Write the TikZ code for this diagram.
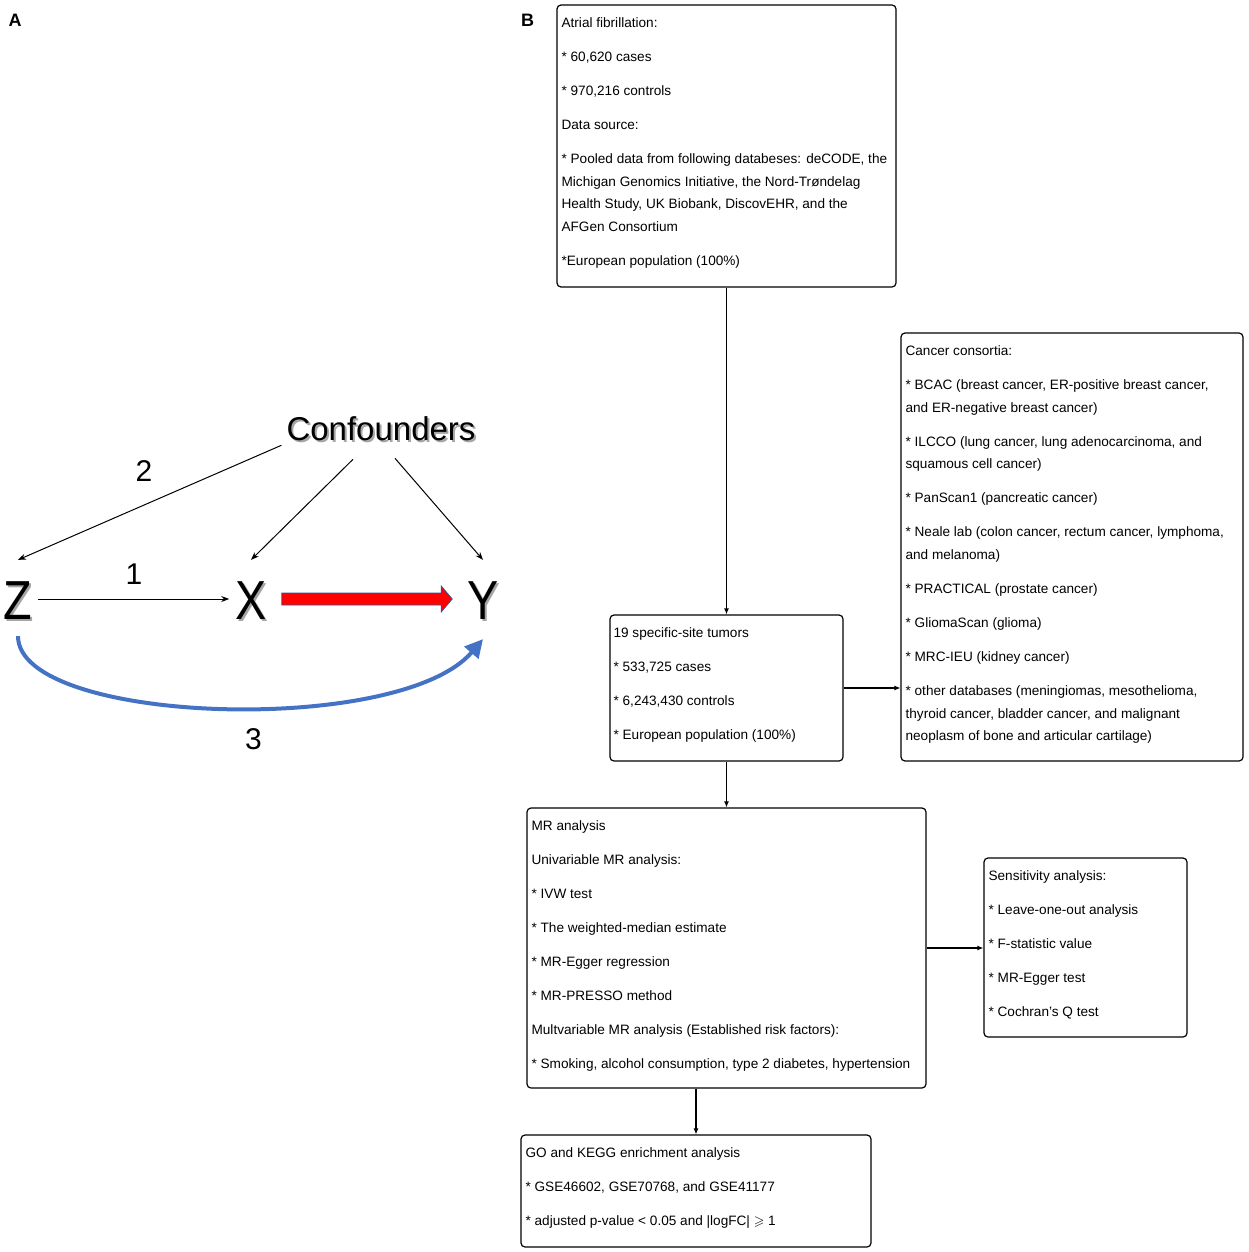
\documentclass[tikz,border=0pt]{standalone}
\usepackage{amssymb}
\usepackage{graphicx}
\usepackage{fontspec}
\setmainfont{Liberation Sans}
\usetikzlibrary{arrows.meta,calc}

\definecolor{arcblue}{HTML}{4472C4}
\definecolor{edgeblue}{HTML}{2F5597}

% grey offset copy behind the big letters
\newcommand{\shadowed}[1]{\makebox[0pt][l]{\hspace{2pt}\raisebox{-2pt}{\color{black!35}#1}}#1}
\newcommand{\narrowed}[1]{\scalebox{0.85}[1]{\shadowed{#1}}}

\tikzset{
  box/.style={draw, rounded corners=4pt, line width=1.2pt, inner sep=0pt},
  boxtext/.style={anchor=north west, inner sep=0pt, align=left,
    font=\fontsize{13.6}{22.7}\selectfont},
  flow/.style={line width=1.1pt, -{Latex[length=6pt,width=5pt]}},
  cause/.style={line width=1pt, -{Stealth[length=8pt,width=6pt]}},
  letter/.style={inner sep=0pt, font=\fontsize{55}{55}\selectfont},
  num/.style={inner sep=0pt, font=\fontsize{30}{30}\selectfont},
  panel/.style={inner sep=0pt, font=\fontsize{18}{18}\selectfont\bfseries},
}

\begin{document}
\begin{tikzpicture}[x=1pt, y=-1pt]
    \useasboundingbox (0,0) rectangle (1248,1252);

    % panel A
    \node[panel] (pa) at (15,20) {A};
    \node[panel] (pb) at (527.5,20) {B};

    \node[inner sep=0pt, font=\fontsize{33}{33}\selectfont] (conf) at (381,430) {\shadowed{Confounders}};
    \node[letter] (Z) at (18,602) {\narrowed{Z}};
    \node[letter] (X) at (251,602) {\narrowed{X}};
    \node[letter] (Y) at (483,602) {\narrowed{Y}};

    \draw [cause] ([shift={(-5,2)}]conf.south west) -- ([yshift=22pt]Z.north);
    \draw [cause] ([shift={(-28,16)}]conf.south) -- ([yshift=22pt]X.north);
    \draw [cause] ([shift={(14,15)}]conf.south) -- ([yshift=22pt]Y.north);
    \draw [cause] ([shift={(6,-3)}]Z.east) -- ([shift={(-6,-3)}]X.west);

    \coordinate (rs) at ([shift={(15,-3)}]X.east);
    \coordinate (re) at ([shift={(-15,-3)}]Y.west);
    \draw [fill=red, draw=edgeblue, line width=0.8pt]
        ($(rs)+(0,-6)$) -- ($(re)+(-11,-6)$) -- ($(re)+(-11,-13)$) -- (re)
        -- ($(re)+(-11,13)$) -- ($(re)+(-11,6)$) -- ($(rs)+(0,6)$) -- cycle;

    \draw [arcblue, line width=4pt, -{Triangle[length=18pt,width=18pt]}]
        ([yshift=-14pt]Z.south) .. controls +(0,88) and +(-84,98) .. ([yshift=-17pt]Y.south);

    \node[num] (n1) at (134,574) {1};
    \node[num] (n2) at (144,471) {2};
    \node[num] (n3) at (253.5,739) {3};

    % panel B
    \node[box, minimum width=339pt, minimum height=282pt] (af) at (726.5,146) {};
    \node[boxtext] (aftext) at ([shift={(5,13)}]af.north west) {Atrial fibrillation:\\[11.3pt]
        * 60,620 cases\\[11.3pt]
        * 970,216 controls\\[11.3pt]
        Data source:\\[11.3pt]
        * Pooled data from following databeses: deCODE, the\\
        Michigan Genomics Initiative, the Nord-Trøndelag\\
        Health Study, UK Biobank, DiscovEHR, and the\\
        AFGen Consortium\\[11.3pt]
        *European population (100\%)};

    \node[box, minimum width=233pt, minimum height=146pt] (tum) at (726.5,688) {};
    \node[boxtext] (tumtext) at ([shift={(4,13)}]tum.north west) {19 specific-site tumors\\[11.3pt]
        * 533,725 cases\\[11.3pt]
        * 6,243,430 controls\\[11.3pt]
        * European population (100\%)};

    \node[box, minimum width=342pt, minimum height=428pt] (cons) at (1072,547) {};
    \node[boxtext] (constext) at ([shift={(5,13)}]cons.north west) {Cancer consortia:\\[11.3pt]
        * BCAC (breast cancer, ER-positive breast cancer,\\
        and ER-negative breast cancer)\\[11.3pt]
        * ILCCO (lung cancer, lung adenocarcinoma, and\\
        squamous cell cancer)\\[11.3pt]
        * PanScan1 (pancreatic cancer)\\[11.3pt]
        * Neale lab (colon cancer, rectum cancer, lymphoma,\\
        and melanoma)\\[11.3pt]
        * PRACTICAL (prostate cancer)\\[11.3pt]
        * GliomaScan (glioma)\\[11.3pt]
        * MRC-IEU (kidney cancer)\\[11.3pt]
        * other databases (meningiomas, mesothelioma,\\
        thyroid cancer, bladder cancer, and malignant\\
        neoplasm of bone and articular cartilage)};

    \node[box, minimum width=399pt, minimum height=280pt] (mr) at (726.5,948) {};
    \node[boxtext] (mrtext) at ([shift={(5,13)}]mr.north west) {MR analysis\\[11.3pt]
        Univariable MR analysis:\\[11.3pt]
        * IVW test\\[11.3pt]
        * The weighted-median estimate\\[11.3pt]
        * MR-Egger regression\\[11.3pt]
        * MR-PRESSO method\\[11.3pt]
        Multvariable MR analysis (Established risk factors):\\[11.3pt]
        * Smoking, alcohol consumption, type 2 diabetes, hypertension};

    \node[box, minimum width=203pt, minimum height=179pt] (sens) at (1085.5,947.5) {};
    \node[boxtext] (senstext) at ([shift={(5,13)}]sens.north west) {Sensitivity analysis:\\[11.3pt]
        * Leave-one-out analysis\\[11.3pt]
        * F-statistic value\\[11.3pt]
        * MR-Egger test\\[11.3pt]
        * Cochran{\char"27}s Q test};

    \node[box, minimum width=350pt, minimum height=112pt] (go) at (696,1191) {};
    \node[boxtext] (gotext) at ([shift={(5,13)}]go.north west) {GO and KEGG enrichment analysis\\[11.3pt]
        * GSE46602, GSE70768, and GSE41177\\[11.3pt]
        * adjusted p-value < 0.05 and |logFC| $\geqslant$ 1};

    \draw [flow] (af.south) -- (tum.north);
    \draw [flow] (tum.east) -- (tum.east -| cons.west);
    \draw [flow] (tum.south) -- (mr.north);
    \draw [flow] (mr.east) -- (mr.east -| sens.west);
    \draw [flow] (go.north |- mr.south) -- (go.north);
\end{tikzpicture}
\end{document}
